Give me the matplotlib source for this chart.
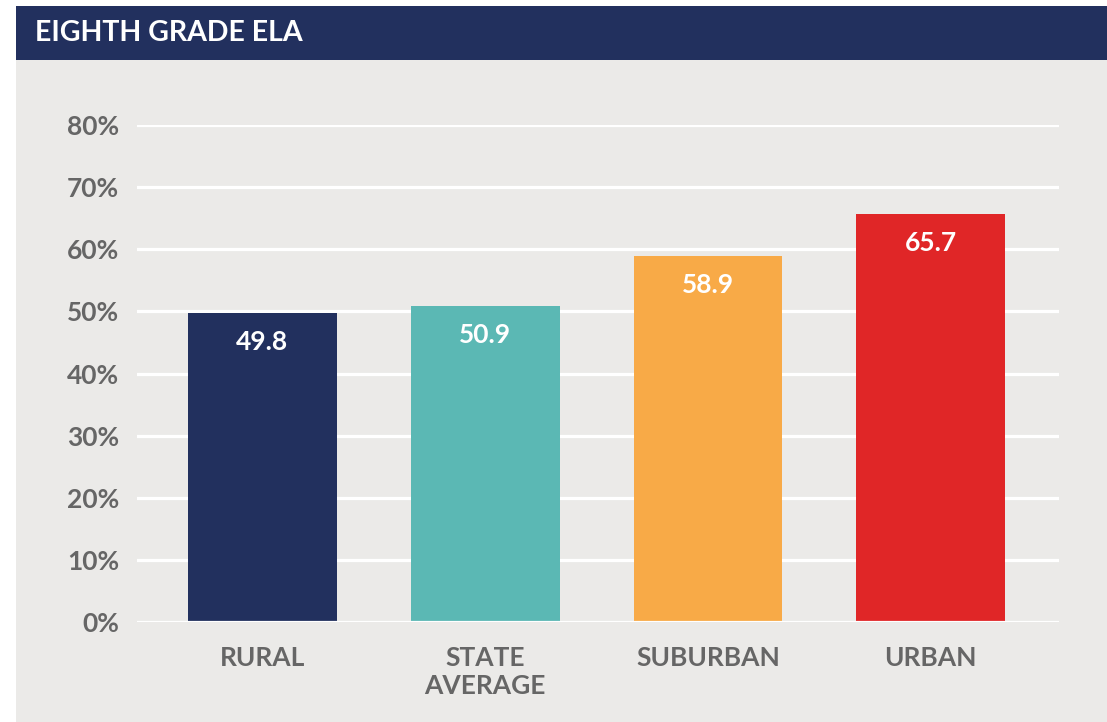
import matplotlib
matplotlib.use('Agg')
import matplotlib.pyplot as plt
from matplotlib.patches import Rectangle

categories = ['RURAL', 'STATE\nAVERAGE', 'SUBURBAN', 'URBAN']
values = [49.8, 50.9, 58.9, 65.7]
colors = ['#22305E', '#5BB8B4', '#F8AA47', '#E02627']
yticks = [0, 10, 20, 30, 40, 50, 60, 70, 80]
title = 'EIGHTH GRADE ELA'

plt.rcParams['font.family'] = ['Lato', 'DejaVu Sans']
plt.rcParams['font.weight'] = 'bold'

W, H = 1107, 722
fig = plt.figure(figsize=(W / 100, H / 100), dpi=100)
fig.patch.set_facecolor('white')

# background panel and header band
fig.patches.append(Rectangle((16 / W, 0), 1 - 16 / W, 1 - 60 / H,
                             transform=fig.transFigure, facecolor='#EBEAE8', edgecolor='none', zorder=-2))
fig.patches.append(Rectangle((16 / W, 1 - 60 / H), 1 - 16 / W, 54 / H,
                             transform=fig.transFigure, facecolor='#22305E', edgecolor='none', zorder=-2))
fig.text(35 / W, 1 - 33 / H, title, color='white', fontsize=20.5, fontweight='bold',
         ha='left', va='center')

# axes: x from 137 to 1059 px, y 0 at 622 px, 80 at 125 px
y0, y80 = 622, 125
ax = fig.add_axes([137 / W, 1 - y0 / H, (1059 - 137) / W, (y0 - y80) / H])
ax.set_facecolor('none')
ax.set_xlim(-0.563, 3.576)
ax.set_ylim(0, 80)

x = range(len(categories))
ax.bar(x, values, width=0.668, color=colors, zorder=2)
for v in yticks:
    ax.axhline(v, color='white', lw=2.3, zorder=1 if v else 3)

for xi, v in zip(x, values):
    ax.annotate(f'{v}', (xi, v), xytext=(0, -21), textcoords='offset points',
                ha='center', va='center', color='white', fontsize=19, fontweight='bold', zorder=4)

ax.set_yticks(yticks)
ax.set_yticklabels([f'{v}%' for v in yticks])
ax.set_xticks(list(x))
ax.set_xticklabels(categories, linespacing=1.22)
ax.tick_params(axis='y', length=0, pad=13, labelsize=19, labelcolor='#666666')
ax.tick_params(axis='x', length=0, pad=17, labelsize=19, labelcolor='#666666')
for s in ax.spines.values():
    s.set_visible(False)

fig.savefig('out.png', dpi=100)
